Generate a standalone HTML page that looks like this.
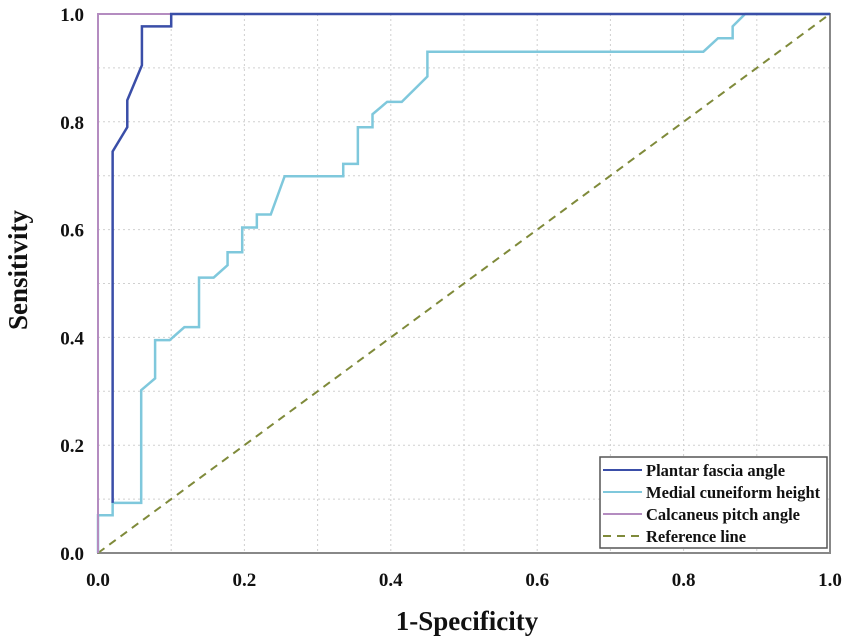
<!DOCTYPE html>
<html><head><meta charset="utf-8"><style>
body{margin:0;background:#fff;overflow:hidden;}
svg{display:block;}
svg text{font-family:"Liberation Serif",serif;font-weight:bold;fill:#111;}
</style></head><body>
<svg id="c" width="852" height="640"></svg>
<script>
const ticks=[0,0.2,0.4,0.6,0.8,1.0];
const tickLabels=["0.0","0.2","0.4","0.6","0.8","1.0"];
const gridVals=[0.1,0.2,0.3,0.4,0.5,0.6,0.7,0.8,0.9];
const plantarX=[0.02,0.02,0.04,0.04,0.06,0.06,0.1,0.1,1];
const plantarY=[0.093,0.745,0.79,0.84,0.905,0.977,0.977,1,1];
const medialX=[0,0,0.02,0.02,0.059,0.059,0.078,0.078,0.098,0.118,0.138,0.138,0.158,0.177,0.177,0.197,0.197,0.217,0.217,0.236,0.255,0.335,0.335,0.355,0.355,0.375,0.375,0.395,0.415,0.45,0.45,0.827,0.847,0.867,0.867,0.884,1];
const medialY=[0,0.07,0.07,0.093,0.093,0.302,0.324,0.395,0.395,0.419,0.419,0.511,0.511,0.534,0.558,0.558,0.604,0.604,0.628,0.628,0.699,0.699,0.722,0.722,0.79,0.79,0.814,0.837,0.837,0.884,0.93,0.93,0.955,0.955,0.977,1,1];
const calcX=[0,0,1];
const calcY=[0,1,1];
const refX=[0,1];
const refY=[0,1];
const L=98,R=830,T=14,B=553;
const sx=v=>L+v*(R-L), sy=v=>B-v*(B-T);
const svg=document.getElementById('c');
const NS='http://www.w3.org/2000/svg';
function mk(t,a){const e=document.createElementNS(NS,t);for(const k in a)e.setAttribute(k,a[k]);svg.appendChild(e);return e;}
gridVals.forEach(t=>{
  const g1=mk('line',{x1:sx(t),x2:sx(t),y1:T,y2:B,stroke:'#d0d0d0','stroke-dasharray':'2,3'});
  
  
  const g2=mk('line',{x1:L,x2:R,y1:sy(t),y2:sy(t),stroke:'#d0d0d0','stroke-dasharray':'2,3'});
  
  
});
ticks.forEach((t,i)=>{
 const tx=mk('text',{x:sx(t),y:586,'font-size':19,'text-anchor':'middle'});tx.textContent=tickLabels[i];
 
 
 const ty=mk('text',{x:84,y:sy(t)+7,'font-size':19,'text-anchor':'end'});ty.textContent=tickLabels[i];
 
 
});
const fr=mk('rect',{x:L,y:T,width:R-L,height:B-T,fill:'none',stroke:'#888','stroke-width':2});


function line(xs,ys,col,w,name,dash){
 const p=xs.map((x,i)=>sx(x)+','+sy(ys[i])).join(' ');
 const e=mk('polyline',{points:p,fill:'none',stroke:col,'stroke-width':w});
 if(dash)e.setAttribute('stroke-dasharray',dash);
 
 
}
line(refX,refY,'#7f8a3a',2,'reference-line','8,6');
line(medialX,medialY,'#7fc8dc',2.5,'medial-cuneiform-line');
line(calcX,calcY,'#b48cc0',2,'calcaneus-pitch-line');
line(plantarX,plantarY,'#3a4ea8',2.5,'plantar-fascia-line');
const lg=mk('rect',{x:600,y:457,width:227,height:91,fill:'#fff',stroke:'#555','stroke-width':1.5});


const leg=[['Plantar fascia angle','#3a4ea8',null],['Medial cuneiform height','#7fc8dc',null],['Calcaneus pitch angle','#b48cc0',null],['Reference line','#7f8a3a','8,6']];
leg.forEach((l,i)=>{
 const y=470+i*22;
 const ln=mk('line',{x1:603,x2:642,y1:y,y2:y,stroke:l[1],'stroke-width':2});
 if(l[2])ln.setAttribute('stroke-dasharray',l[2]);
 
 
 const t=mk('text',{x:646,y:y+6,'font-size':16.5});t.textContent=l[0];
 
 
});
const xt=mk('text',{x:467,y:630,'font-size':27,'text-anchor':'middle'});xt.textContent='1-Specificity';


const yt=mk('text',{x:0,y:0,'font-size':27,'text-anchor':'middle',transform:'translate(27,270) rotate(-90)'});yt.textContent='Sensitivity';


</script>
</body></html>
